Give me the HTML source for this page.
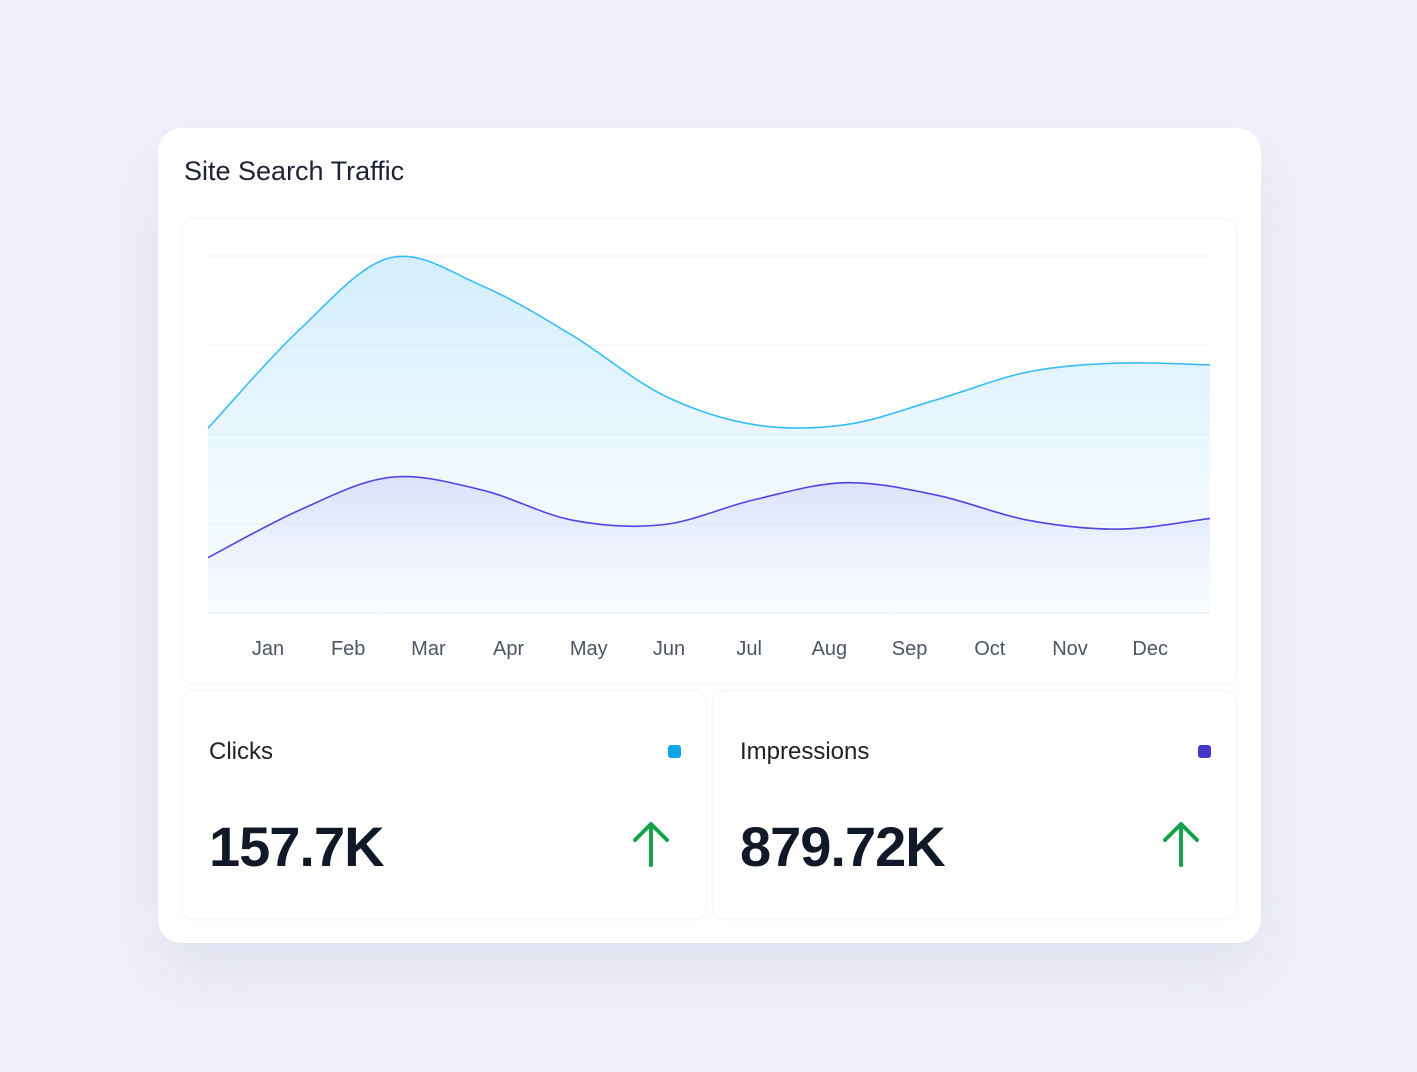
<!DOCTYPE html>
<html><head><meta charset="utf-8"><style>
body{margin:0;width:1417px;height:1072px;background:#eff0f9;font-family:"Liberation Sans",sans-serif;position:relative;overflow:hidden}
.card{position:absolute;left:158px;top:128px;width:1103px;height:815px;background:#fff;border-radius:24px;box-shadow:0 30px 60px rgba(80,80,140,0.08)}
.title{position:absolute;left:26px;top:28px;font-size:27px;color:#1e2235}
.panel{position:absolute;background:#fff;border-radius:10px;box-shadow:0 0 6px rgba(0,0,0,0.07)}
.lbl{position:absolute;left:26px;top:46px;font-size:24px;color:#222}
.val{position:absolute;left:26px;top:122px;font-size:56px;font-weight:bold;color:#111827;letter-spacing:-1px}
.sq{position:absolute;top:53px;width:13px;height:13px;border-radius:3px}
</style></head><body>
<div class="card">
<div class="title">Site Search Traffic</div>
<div class="panel" style="left:25px;top:92px;width:1053px;height:463px">
<svg id="chart" width="1053" height="463"></svg>
</div>
<div class="panel" style="left:25px;top:564px;width:522px;height:226px">
<div class="lbl">Clicks</div>
<div class="sq" style="left:485px;background:#0ea5e9"></div>
<div class="val">157.7K</div>
<svg style="position:absolute;left:448px;top:128px" width="40" height="48"><path d="M20 45V4M4 20L20 4L36 20" stroke="#16a34a" stroke-width="4" fill="none" stroke-linecap="round" stroke-linejoin="round"/></svg>
</div>
<div class="panel" style="left:556px;top:564px;width:522px;height:226px">
<div class="lbl">Impressions</div>
<div class="sq" style="left:484px;background:#4338ca"></div>
<div class="val">879.72K</div>
<svg style="position:absolute;left:447px;top:128px" width="40" height="48"><path d="M20 45V4M4 20L20 4L36 20" stroke="#16a34a" stroke-width="4" fill="none" stroke-linecap="round" stroke-linejoin="round"/></svg>
</div>
</div>
<script>
const months=["Jan","Feb","Mar","Apr","May","Jun","Jul","Aug","Sep","Oct","Nov","Dec"];
const clicks=[207,317,398,367,311,244,211,211,239,270,280,278];
const impressions=[62,115,152,138,104,99,127,146,132,104,94,106];
const yTicks=[0,100,200,300,400];
const NS="http://www.w3.org/2000/svg";
const svg=document.getElementById('chart');
const X0=25,X1=1027,Y0=393,Y1=36,MAX=400;
const sx=i=>X0+(X1-X0)*i/(months.length-1);
const sy=v=>Y0-(Y0-Y1)*v/MAX;
function mk(t,a){const e=document.createElementNS(NS,t);for(const k in a)e.setAttribute(k,a[k]);svg.appendChild(e);return e;}
const defs=mk('defs',{});
defs.innerHTML='<linearGradient id="g1" x1="0" y1="0" x2="0" y2="1"><stop offset="0" stop-color="#bfe6fb" stop-opacity="0.7"/><stop offset="1" stop-color="#e0f3fd" stop-opacity="0.2"/></linearGradient><linearGradient id="g2" x1="0" y1="0" x2="0" y2="1"><stop offset="0" stop-color="#c7c8f7" stop-opacity="0.5"/><stop offset="1" stop-color="#eef0fd" stop-opacity="0.1"/></linearGradient>';
yTicks.forEach(t=>{const l=mk('line',{x1:X0,x2:X1,y1:sy(t),y2:sy(t),stroke:t===0?'#e5e7eb':'#eeeff2','stroke-width':1});

});
function path(d){const p=d.map((v,i)=>[sx(i),sy(v)]);let s=`M${p[0][0]},${p[0][1]}`;
for(let i=0;i<p.length-1;i++){const a=p[Math.max(i-1,0)],b=p[i],c=p[i+1],e=p[Math.min(i+2,p.length-1)];
s+=`C${b[0]+(c[0]-a[0])/6},${b[1]+(c[1]-a[1])/6} ${c[0]-(e[0]-b[0])/6},${c[1]-(e[1]-b[1])/6} ${c[0]},${c[1]}`;}return s;}
[[clicks,'#38bdf8','url(#g1)','clicks'],[impressions,'#4f46e5','url(#g2)','impressions']].forEach(([d,c,f,n])=>{
const s=path(d);
const a=mk('path',{d:s+`L${X1},${Y0}L${X0},${Y0}Z`,fill:f});


const l=mk('path',{d:s,fill:'none',stroke:c,'stroke-width':1.6});

});
months.forEach((m,i)=>{const t=mk('text',{x:85+80.2*i,y:435,'text-anchor':'middle','font-size':20,fill:'#4b5563','font-family':'Liberation Sans, sans-serif'});t.textContent=m;

});
</script>
</body></html>
